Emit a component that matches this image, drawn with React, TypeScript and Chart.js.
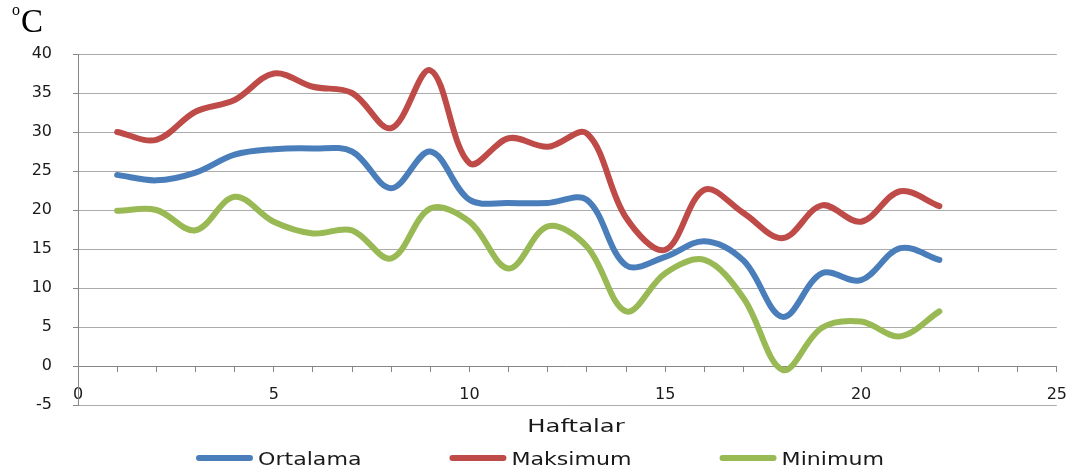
import React, { useEffect, useRef } from 'react';
import { Chart, registerables } from 'chart.js';

Chart.register(...registerables);

const weeks = [1, 2, 3, 4, 5, 6, 7, 8, 9, 10, 11, 12, 13, 14, 15, 16, 17, 18, 19, 20, 21, 22];
const ortalama = [24.5, 23.8, 24.8, 27.1, 27.8, 27.9, 27.5, 22.8, 27.5, 21.3, 20.9, 20.9, 21.3, 12.9, 14.0, 16.0, 13.5, 6.3, 11.9, 11.0, 15.1, 13.6];
const maksimum = [30.0, 29.0, 32.6, 34.1, 37.5, 35.8, 35.0, 30.5, 37.9, 26.0, 29.2, 28.1, 29.8, 19.0, 14.9, 22.6, 19.6, 16.4, 20.6, 18.5, 22.4, 20.5];
const minimum = [19.9, 20.0, 17.4, 21.7, 18.5, 17.0, 17.4, 13.8, 20.2, 18.5, 12.5, 17.9, 15.3, 7.0, 11.9, 13.6, 8.7, -0.5, 4.9, 5.7, 3.8, 7.0];

const seriesNames = ['Ortalama', 'Maksimum', 'Minimum'];
const seriesColors = ['#4A7EBB', '#BE4B48', '#98B954'];
const xTitle = 'Haftalar';
const yUnitSup = 'o';
const yUnit = 'C';

const xMin = 0;
const xMax = 25;
const yMin = -5;
const yMax = 40;

const TICK_FONT = 'DejaVu Sans';

const textPlugin = {
  id: 'customTexts',
  afterDraw(chart: any) {
    const ctx = chart.ctx as CanvasRenderingContext2D;
    ctx.save();
    // unit label
    ctx.fillStyle = '#000';
    ctx.textBaseline = 'alphabetic';
    ctx.textAlign = 'left';
    ctx.font = '16px "Liberation Serif"';
    ctx.fillText(yUnitSup, 12, 15);
    ctx.font = '33px "Liberation Serif"';
    ctx.fillText(yUnit, 21, 32);

    // x axis title
    const sx = 1.35;
    ctx.fillStyle = '#1a1a1a';
    ctx.font = `18px "${TICK_FONT}"`;
    const tw = ctx.measureText(xTitle).width * sx;
    const cx = 576;
    ctx.save();
    ctx.translate(cx - tw / 2, 432);
    ctx.scale(sx, 1);
    ctx.fillText(xTitle, 0, 0);
    ctx.restore();

    // legend
    const lsx = 1.3;
    ctx.font = `17px "${TICK_FONT}"`;
    const swatch = 57;
    const gapText = 5;
    const gapItems = 88;
    const items = chart.data.datasets.map((ds: any) => ({
      label: ds.label,
      color: ds.borderColor,
      w: ctx.measureText(ds.label).width * lsx,
    }));
    const total = items.reduce((s: number, it: any) => s + swatch + gapText + it.w, 0) + gapItems * (items.length - 1);
    let x = 540 - total / 2;
    const ly = 458;
    items.forEach((it: any) => {
      ctx.beginPath();
      ctx.strokeStyle = it.color;
      ctx.lineWidth = 6;
      ctx.lineCap = 'round';
      ctx.moveTo(x + 3, ly);
      ctx.lineTo(x + swatch - 3, ly);
      ctx.stroke();
      ctx.save();
      ctx.translate(x + swatch + gapText, 465);
      ctx.scale(lsx, 1);
      ctx.fillStyle = '#1a1a1a';
      ctx.fillText(it.label, 0, 0);
      ctx.restore();
      x += swatch + gapText + it.w + gapItems;
    });
    ctx.restore();
  },
};

export default function App() {
  const ref = useRef<HTMLCanvasElement | null>(null);

  useEffect(() => {
    if (!ref.current) return;
    const mk = (vals: number[]) => weeks.map((w, i) => ({ x: w, y: vals[i] }));
    const all = [ortalama, maksimum, minimum];
    const chart = new Chart(ref.current, {
      type: 'line',
      data: {
        datasets: all.map((vals, i) => ({
          label: seriesNames[i],
          data: mk(vals),
          borderColor: seriesColors[i],
          backgroundColor: seriesColors[i],
          borderWidth: 6,
          borderCapStyle: 'round',
          borderJoinStyle: 'round',
          pointRadius: 0,
          pointHoverRadius: 0,
          tension: 0.35,
          fill: false,
        })),
      },
      options: {
        animation: false,
        responsive: false,
        maintainAspectRatio: false,
        layout: { padding: { top: 54, left: 0, right: 20, bottom: 68 } },
        plugins: {
          legend: { display: false },
          tooltip: { enabled: false },
          title: { display: false },
        },
        scales: {
          x: {
            type: 'linear',
            min: xMin,
            max: xMax,
            position: { y: 0 } as any,
            grid: {
              drawOnChartArea: false,
              drawTicks: true,
              tickLength: 5,
              tickColor: '#868686',
              tickWidth: 1,
            },
            border: { display: true, color: '#868686', width: 1 },
            ticks: {
              stepSize: 1,
              autoSkip: false,
              maxRotation: 0,
              padding: 14,
              color: '#1a1a1a',
              font: { family: TICK_FONT, size: 16 },
              callback: (v: any) => (Number(v) % 5 === 0 ? String(v) : ''),
            },
          },
          y: {
            type: 'linear',
            min: yMin,
            max: yMax,
            afterFit: (s: any) => {
              s.width = 78;
            },
            grid: {
              color: '#ABABAB',
              lineWidth: 1,
              drawTicks: true,
              tickLength: 5,
              tickColor: '#868686',
            },
            border: { display: true, color: '#868686', width: 1 },
            ticks: {
              stepSize: 5,
              padding: 21,
              color: '#1a1a1a',
              font: { family: TICK_FONT, size: 16 },
            },
          },
        },
      },
      plugins: [textPlugin],
    });
    return () => chart.destroy();
  }, []);

  return (
    <div style={{ position: 'absolute', left: 0, top: 0, width: 1081, height: 473 }}>
      <canvas ref={ref} width={1081} height={473} style={{ display: 'block' }} />
    </div>
  );
}
